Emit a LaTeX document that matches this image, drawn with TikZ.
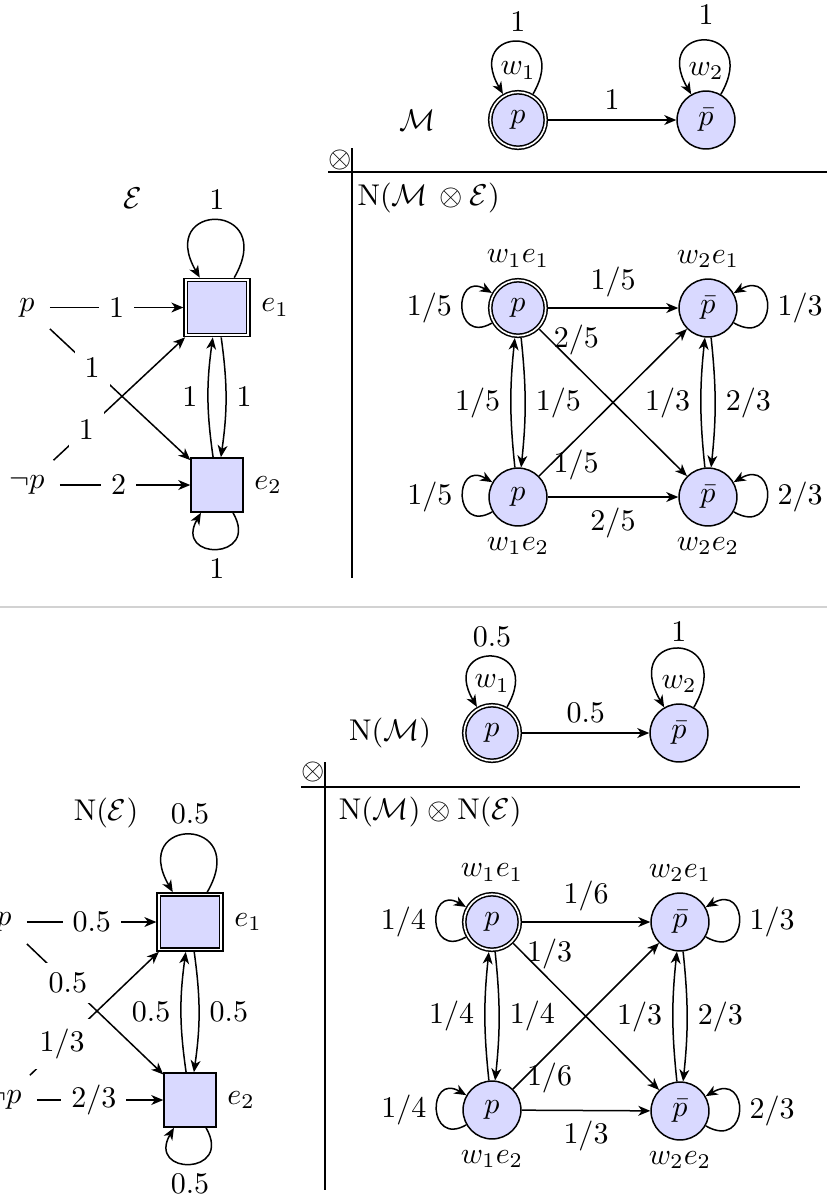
\documentclass[tikz,border=0pt]{standalone}
\usetikzlibrary{arrows.meta}
\begin{document}
\begin{tikzpicture}[x=0.333333pt,y=-0.333333pt,line width=0.5pt,
  arr/.style={-{Stealth[length=4pt,width=3.3pt,inset=1.2pt]}},
  st/.style={circle,draw,fill=blue!15,minimum size=19.3pt,inner sep=0pt},
  acc/.style={circle,draw,fill=blue!15,minimum size=18.5pt,inner sep=0pt,double,double distance=0.55pt,outer sep=0.8pt},
  ebox/.style={rectangle,draw,fill=blue!15,inner sep=0pt,minimum width=17.3pt,minimum height=18pt},
  eacc/.style={rectangle,draw,fill=blue!15,inner sep=0pt,minimum width=20.8pt,minimum height=18.3pt,double,double distance=0.55pt,outer sep=0.8pt},
  src/.style={outer sep=1.8pt},
  lab/.style={fill=white},
  divider/.style={draw=gray!35,line width=0.7pt},
]
\useasboundingbox (0,0) rectangle (827,1198);
\clip (0,0) rectangle (827,1198);

% ================= TOP =================
% M
\node (AMname) at (418,120) {$\mathcal{M}$};
\node[acc,label=above:$w_1$] (AMp) at (518,120) {$p$};
\node[st,label=above:$w_2$] (AMq) at (706,120) {$\bar p$};
\draw[arr] (AMp.60) to[out=60,in=120,distance=26.7pt] node[above]{$1$} (AMp.120);
\draw[arr] (AMq.60) to[out=60,in=120,distance=27.5pt] node[above,yshift=1.7pt]{$1$} (AMq.120);
\draw[arr] (AMp) -- node[above]{$1$} (AMq);

% separator
\node (Aot) at (340,160) {$\otimes$};
\draw (352,148) -- (352,578);
\draw (328,172) -- (827,172);
\node[anchor=base west,inner sep=0pt] (Atitle) at (357,205) {$\mathrm{N}(\mathcal{M}\,\otimes\mathcal{E})$};

% E
\node (AEname) at (133,198) {$\mathcal{E}$};
\node[eacc,label=right:$e_1$] (Ae1) at (217,307.5) {};
\node[ebox,label=right:$e_2$] (Ae2) at (217,485) {};
\node[src] (Ap) at (27,307.5) {$p$};
\node[src] (Anp) at (27,485) {$\neg p$};
\draw[arr] (Ae1.60) to[out=60,in=120,distance=29.5pt] node[above]{$1$} (Ae1.120);
\draw[arr] (Ae2.-60) to[out=-60,in=-120,distance=18.5pt] node[below]{$1$} (Ae2.-120);
\draw[arr] (Ap) -- node[lab]{$1$} (Ae1);
\draw[arr] (Anp) -- node[lab,pos=0.45]{$2$} (Ae2);
\draw[arr] (Ap) -- node[lab,pos=0.3]{$1$} (Ae2);
\draw[arr] (Anp) -- node[lab,pos=0.25]{$1$} (Ae1);
\draw[arr] (Ae2) to[bend left=8] node[left]{$1$} (Ae1);
\draw[arr] (Ae1) to[bend left=8] node[right]{$1$} (Ae2);

% product
\node[acc,label=above:$w_1e_1$] (A11) at (518,308) {$p$};
\node[st,label=above:$w_2e_1$] (A21) at (708,308) {$\bar p$};
\node[st,label=below:$w_1e_2$] (A12) at (518,497) {$p$};
\node[st,label=below:$w_2e_2$] (A22) at (708,497) {$\bar p$};
\draw[arr] (A11.210) to[out=210,in=150,distance=15pt] node[left]{$1/5$} (A11.150);
\draw[arr] (A12.210) to[out=210,in=150,distance=15pt] node[left]{$1/5$} (A12.150);
\draw[arr] (A21.-30) to[out=-30,in=30,distance=17pt] node[right]{$1/3$} (A21.30);
\draw[arr] (A22.-30) to[out=-30,in=30,distance=17pt] node[right]{$2/3$} (A22.30);
\draw[arr] (A11) -- node[above]{$1/5$} (A21);
\draw[arr] (A12) -- node[below]{$2/5$} (A22);
\draw[arr] (A12) to[bend left=6] node[left]{$1/5$} (A11);
\draw[arr] (A11) to[bend left=6] node[right]{$1/5$} (A12);
\draw[arr] (A22) to[bend left=6] node[left]{$1/3$} (A21);
\draw[arr] (A21) to[bend left=6] node[right]{$2/3$} (A22);
\draw[arr] (A11) -- node[pos=0.25,above]{$2/5$} (A22);
\draw[arr] (A12) -- node[pos=0.25,below]{$1/5$} (A21);

% divider
\draw[divider] (0,607) -- (827,607);

% ================= BOTTOM =================
% N(M)
\node (BMname) at (390,733) {$\mathrm{N}(\mathcal{M})$};
\node[acc,label=above:$w_1$] (BMp) at (492,733) {$p$};
\node[st,label=above:$w_2$] (BMq) at (679,733) {$\bar p$};
\draw[arr] (BMp.60) to[out=60,in=120,distance=25.7pt] node[above]{$0.5$} (BMp.120);
\draw[arr] (BMq.60) to[out=60,in=120,distance=30pt] node[above,yshift=-1pt]{$1$} (BMq.120);
\draw[arr] (BMp) -- node[above]{$0.5$} (BMq);

% separator
\node (Bot) at (313,772) {$\otimes$};
\draw (325,762) -- (325,1190);
\draw (301,787) -- (800,787);
\node[anchor=base west,inner sep=0pt] (Btitle) at (338,819) {$\mathrm{N}(\mathcal{M})\otimes\mathrm{N}(\mathcal{E})$};

% N(E)
\node (BEname) at (106,813) {$\mathrm{N}(\mathcal{E})$};
\node[eacc,label=right:$e_1$] (Be1) at (190,922) {};
\node[ebox,label=right:$e_2$] (Be2) at (190,1100) {};
\node[src] (Bp) at (4,922) {$p$};
\node[src] (Bnp) at (4,1100) {$\neg p$};
\draw[arr] (Be1.60) to[out=60,in=120,distance=29.5pt] node[above]{$0.5$} (Be1.120);
\draw[arr] (Be2.-60) to[out=-60,in=-120,distance=18.5pt] node[below]{$0.5$} (Be2.-120);
\draw[arr] (Bp) -- node[lab]{$0.5$} (Be1);
\draw[arr] (Bnp) -- node[lab,pos=0.45]{$2/3$} (Be2);
\draw[arr] (Bp) -- node[lab,pos=0.3]{$0.5$} (Be2);
\draw[arr] (Bnp) -- node[lab,pos=0.25]{$1/3$} (Be1);
\draw[arr] (Be2) to[bend left=8] node[left]{$0.5$} (Be1);
\draw[arr] (Be1) to[bend left=8] node[right]{$0.5$} (Be2);

% product
\node[acc,label=above:$w_1e_1$] (B11) at (492,922) {$p$};
\node[st,label=above:$w_2e_1$] (B21) at (680,922) {$\bar p$};
\node[st,label=below:$w_1e_2$] (B12) at (492,1110) {$p$};
\node[st,label=below:$w_2e_2$] (B22) at (680,1111) {$\bar p$};
\draw[arr] (B11.210) to[out=210,in=150,distance=15pt] node[left]{$1/4$} (B11.150);
\draw[arr] (B12.210) to[out=210,in=150,distance=15pt] node[left]{$1/4$} (B12.150);
\draw[arr] (B21.-30) to[out=-30,in=30,distance=17pt] node[right]{$1/3$} (B21.30);
\draw[arr] (B22.-30) to[out=-30,in=30,distance=17pt] node[right]{$2/3$} (B22.30);
\draw[arr] (B11) -- node[above]{$1/6$} (B21);
\draw[arr] (B12) -- node[below]{$1/3$} (B22);
\draw[arr] (B12) to[bend left=6] node[left]{$1/4$} (B11);
\draw[arr] (B11) to[bend left=6] node[right]{$1/4$} (B12);
\draw[arr] (B22) to[bend left=6] node[left]{$1/3$} (B21);
\draw[arr] (B21) to[bend left=6] node[right]{$2/3$} (B22);
\draw[arr] (B11) -- node[pos=0.25,above]{$1/3$} (B22);
\draw[arr] (B12) -- node[pos=0.25,below]{$1/6$} (B21);
\end{tikzpicture}
\end{document}
